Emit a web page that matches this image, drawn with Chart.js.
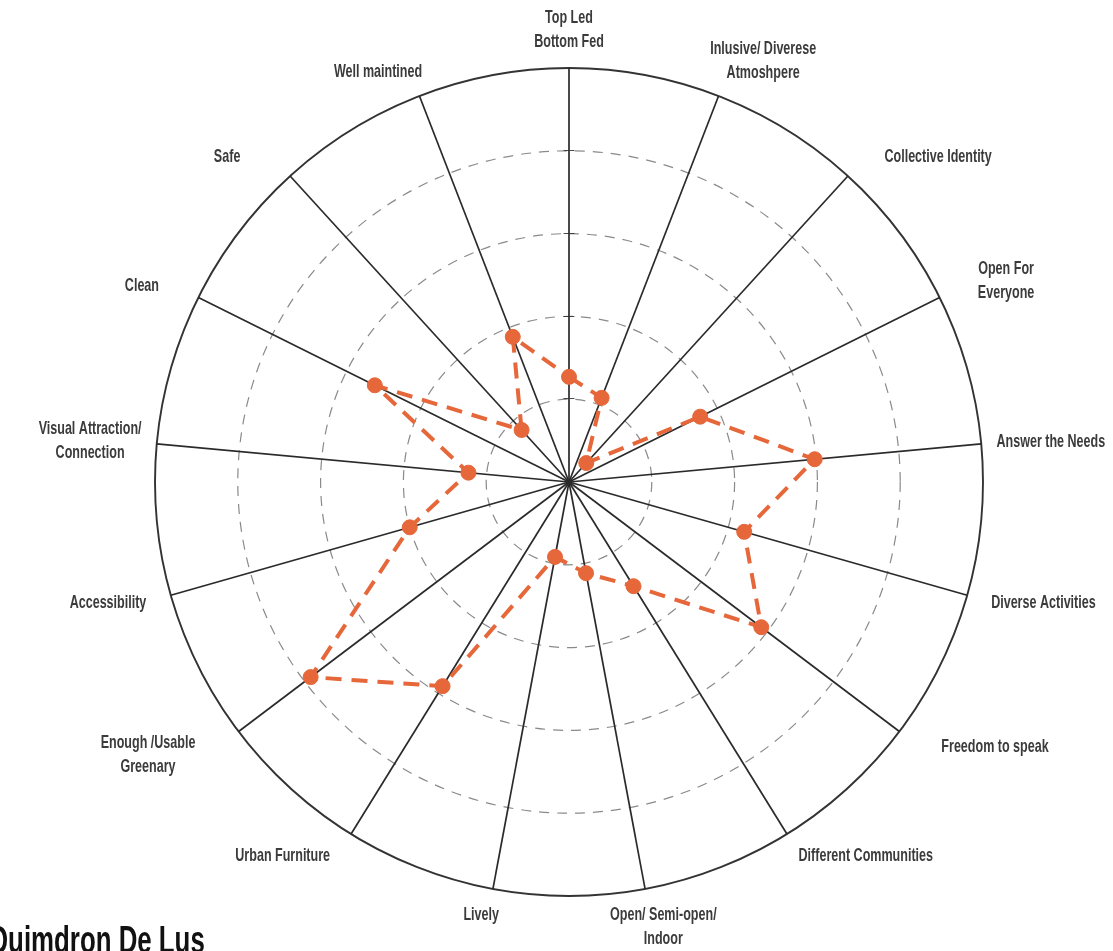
<!DOCTYPE html>
<html>
<head>
<meta charset="utf-8">
<script src="https://cdn.jsdelivr.net/npm/chart.js@4"></script>
<style>
html,body{margin:0;padding:0;background:#fff;overflow:hidden}
#wrap{width:1113px;height:951px;position:relative}
</style>
</head>
<body>
<div id="wrap"><canvas id="c"></canvas></div>
<script>
// ---- data ----
const categories = [
  ['Top Led', 'Bottom Fed'],
  ['Inlusive/ Diverese', 'Atmoshpere'],
  'Collective Identity',
  ['Open For', 'Everyone'],
  'Answer the Needs',
  'Diverse Activities',
  'Freedom to speak',
  'Different Communities',
  ['Open/ Semi-open/', 'Indoor'],
  'Lively',
  'Urban Furniture',
  ['Enough /Usable', 'Greenary'],
  'Accessibility',
  ['Visual Attraction/', 'Connection'],
  'Clean',
  'Safe',
  'Well maintined'
];
const scores = [1.27, 1.09, 0.31, 1.77, 2.98, 2.2, 2.91, 1.48, 1.12, 0.92, 2.9, 3.91, 2.0, 1.22, 2.62, 0.85, 1.88];
const scaleMin = 0;
const scaleMax = 5;
const scaleStep = 1;
const chartTitle = 'Quimdron De Lus';

// ---- styling ----
const ORANGE = '#E5673A';
const LABEL_FONT = 'bold 19px "Liberation Sans", Arial, sans-serif';
const LABEL_SX = 0.66;      // condensed look
const LABEL_LINE = 24;
const LABEL_PAD = 14;
const LABEL_DIAG_EXTRA = 45; // extra horizontal push for diagonal labels

const outerLabels = {
  id: 'outerLabels',
  afterDraw(chart) {
    const scale = chart.scales.r;
    const ctx = chart.ctx;
    ctx.save();
    ctx.font = LABEL_FONT;
    ctx.fillStyle = '#3b3b3b';
    ctx.textAlign = 'center';
    ctx.textBaseline = 'middle';
    chart.data.labels.forEach((lab, i) => {
      const lines = Array.isArray(lab) ? lab : [lab];
      const w = Math.max(...lines.map(l => ctx.measureText(l).width)) * LABEL_SX;
      const h = lines.length * LABEL_LINE;
      const ang = scale.getIndexAngle(i);
      const s = Math.sin(ang), c = Math.cos(ang);
      const p = scale.getPointPosition(i, scale.drawingArea + LABEL_PAD);
      const s2 = Math.sin(2 * ang);
      const cx = p.x + s * w / 2 + Math.sign(s) * LABEL_DIAG_EXTRA * s2 * s2;
      const cy = p.y - c * h / 2;
      lines.forEach((l, k) => {
        ctx.save();
        ctx.translate(cx, cy - h / 2 + LABEL_LINE / 2 + k * LABEL_LINE);
        ctx.scale(LABEL_SX, 1);
        ctx.fillText(l, 0, 0);
        ctx.restore();
      });
    });
    ctx.restore();
  }
};

const cornerTitle = {
  id: 'cornerTitle',
  afterDraw(chart) {
    const ctx = chart.ctx;
    ctx.save();
    ctx.font = 'bold 38px "Liberation Sans", Arial, sans-serif';
    ctx.fillStyle = '#111';
    ctx.textAlign = 'left';
    ctx.textBaseline = 'alphabetic';
    ctx.translate(-12, 953);
    ctx.scale(0.68, 1);
    ctx.fillText(chartTitle, 0, 0);
    ctx.restore();
  }
};

new Chart(document.getElementById('c'), {
  type: 'radar',
  data: {
    labels: categories,
    datasets: [{
      data: scores,
      borderColor: ORANGE,
      backgroundColor: ORANGE,
      borderWidth: 4,
      borderDash: [16, 10],
      fill: false,
      tension: 0,
      pointRadius: 7.5,
      pointHoverRadius: 7.5,
      pointBackgroundColor: ORANGE,
      pointBorderColor: ORANGE,
      pointBorderWidth: 1
    }]
  },
  options: {
    responsive: true,
    maintainAspectRatio: false,
    animation: false,
    layout: { padding: { left: 147, right: 122, top: 60, bottom: 47 } },
    plugins: {
      legend: { display: false },
      title: { display: false },
      tooltip: { enabled: false }
    },
    scales: {
      r: {
        min: scaleMin,
        max: scaleMax,
        beginAtZero: true,
        angleLines: { display: true, color: '#2a2a2a', lineWidth: 1.7 },
        grid: {
          circular: true,
          color: c => (c.tick && c.tick.value === scaleMax) ? '#333333' : '#8a8a8a',
          lineWidth: c => (c.tick && c.tick.value === scaleMax) ? 1.9 : 1.2
        },
        border: {
          dash: c => (c.tick && c.tick.value === scaleMax) ? [] : [10, 8]
        },
        pointLabels: { display: false },
        ticks: {
          stepSize: scaleStep,
          display: true,
          showLabelBackdrop: false,
          backdropPadding: 2,
          color: '#333',
          font: { size: 12, family: 'DejaVu Sans' },
          callback: v => (v > scaleMin && v < scaleMax) ? '\u2014' : ''
        }
      }
    }
  },
  plugins: [outerLabels, cornerTitle]
});
</script>
</body>
</html>
